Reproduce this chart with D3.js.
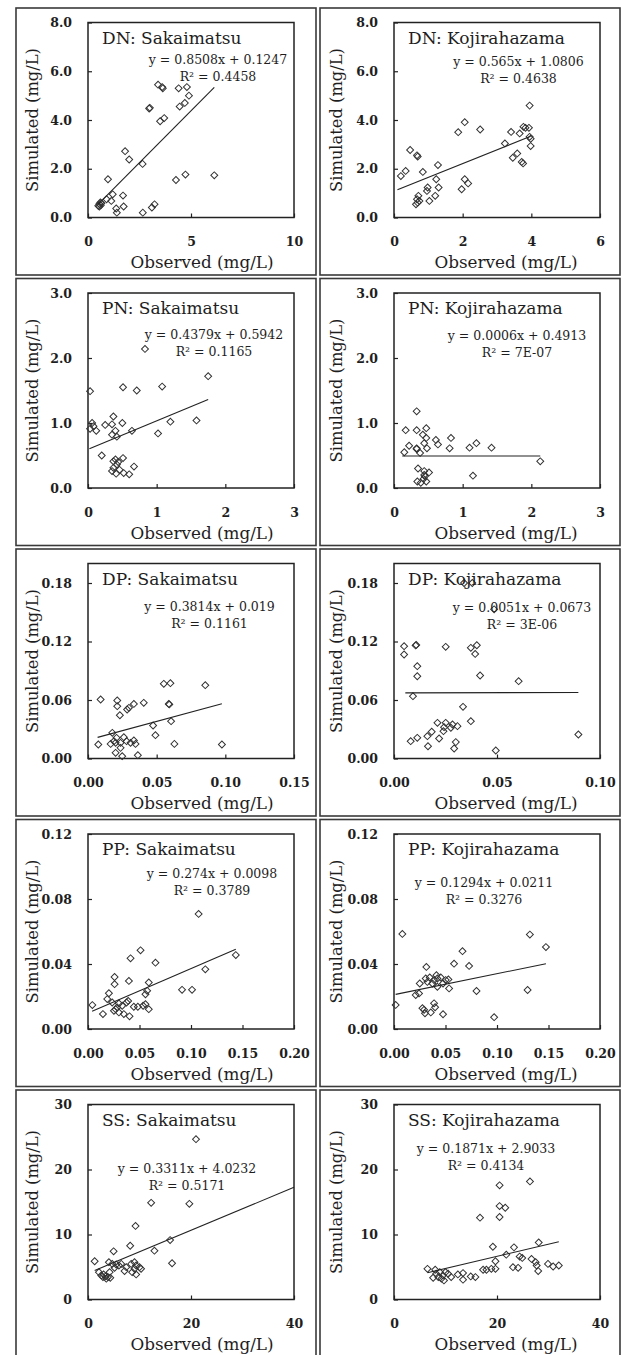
<!DOCTYPE html>
<html>
<head>
<meta charset="utf-8">
<script src="https://cdn.jsdelivr.net/npm/d3@7"></script>
<style>
  body { margin: 0; background: #fff; }
  svg { display: block; }
  text { font-family: "DejaVu Serif", serif; fill: #1e1e1e; }
</style>
</head>
<body>
<div id="chart"></div>
<script>
// --- data (observed, simulated) ---
const dnSakaimatsu = [[3.4,5.45],[3.6,5.35],[3.63,5.3],[4.4,5.3],[4.8,5.35],[4.9,5.0],[4.7,4.7],[4.45,4.55],[3.0,4.5],[2.97,4.47],[3.7,4.08],[3.5,3.95],[1.8,2.72],[2.0,2.38],[2.65,2.2],[0.97,1.57],[4.27,1.54],[4.73,1.76],[6.13,1.73],[1.2,0.95],[1.7,0.9],[1.13,0.68],[0.9,0.75],[1.37,0.37],[1.73,0.45],[1.4,0.2],[2.66,0.2],[3.1,0.41],[3.23,0.54],[0.55,0.55],[0.6,0.62],[0.5,0.48],[0.65,0.58],[0.55,0.45],[0.62,0.5]];
const dnKojirahazama = [[3.95,4.59],[3.83,3.68],[3.93,3.68],[3.77,3.72],[3.41,3.51],[3.66,3.45],[3.95,3.31],[3.98,3.23],[3.23,3.04],[3.98,2.93],[3.59,2.63],[3.46,2.45],[3.72,2.28],[3.76,2.22],[2.06,3.91],[1.87,3.5],[2.51,3.61],[0.47,2.77],[0.67,2.55],[0.69,2.5],[0.2,1.7],[0.34,1.91],[0.84,1.87],[1.28,2.15],[1.23,1.57],[1.3,1.23],[0.98,1.23],[0.96,1.09],[1.03,0.68],[1.2,0.89],[0.71,0.89],[0.67,0.75],[0.69,0.61],[0.64,0.54],[0.74,0.68],[2.06,1.57],[2.16,1.4],[1.97,1.16]];
const pnSakaimatsu = [[0.83,2.14],[1.75,1.72],[0.51,1.55],[1.08,1.56],[0.71,1.5],[0.03,1.49],[0.37,1.1],[0.5,1.0],[0.35,0.98],[0.25,0.97],[0.06,1.0],[0.08,0.95],[0.03,0.91],[0.12,0.88],[1.2,1.02],[1.58,1.04],[1.02,0.84],[0.64,0.88],[0.4,0.88],[0.42,0.79],[0.35,0.82],[0.2,0.5],[0.4,0.44],[0.51,0.46],[0.42,0.36],[0.37,0.31],[0.35,0.26],[0.46,0.28],[0.67,0.33],[0.41,0.22],[0.52,0.23],[0.6,0.21],[0.37,0.41],[0.44,0.4]];
const pnKojirahazama = [[0.33,1.18],[0.17,0.89],[0.33,0.89],[0.47,0.92],[0.42,0.82],[0.47,0.77],[0.83,0.77],[0.61,0.74],[0.64,0.67],[0.44,0.69],[0.48,0.61],[0.81,0.61],[1.1,0.62],[1.2,0.69],[1.42,0.62],[0.22,0.65],[0.33,0.61],[0.33,0.6],[0.15,0.55],[0.38,0.54],[2.13,0.41],[1.15,0.19],[0.35,0.3],[0.44,0.26],[0.51,0.24],[0.34,0.1],[0.44,0.2],[0.43,0.14],[0.47,0.1],[0.39,0.08],[0.45,0.18]];
const dpSakaimatsu = [[0.0092,0.0605],[0.0213,0.0595],[0.0213,0.0537],[0.0232,0.0444],[0.0285,0.0503],[0.0298,0.052],[0.0334,0.056],[0.0406,0.0571],[0.0552,0.0766],[0.06,0.0773],[0.0854,0.0752],[0.0588,0.056],[0.0592,0.0555],[0.0474,0.0338],[0.0605,0.0383],[0.0491,0.0239],[0.0629,0.015],[0.0975,0.0144],[0.0075,0.0144],[0.0177,0.0263],[0.0189,0.0178],[0.0201,0.0161],[0.0165,0.015],[0.0208,0.0212],[0.0261,0.0219],[0.0281,0.0178],[0.031,0.0161],[0.0334,0.0185],[0.0346,0.015],[0.0237,0.0161],[0.0201,0.0058],[0.0249,0.0024],[0.0363,0.0034],[0.0237,0.0109]];
const dpKojirahazama = [[0.034,0.18],[0.038,0.18],[0.0486,0.153],[0.0049,0.1152],[0.0049,0.1067],[0.0105,0.116],[0.0108,0.1165],[0.0113,0.0947],[0.0113,0.0844],[0.0251,0.1145],[0.0373,0.1135],[0.0402,0.1162],[0.0394,0.1073],[0.0418,0.0851],[0.0605,0.0793],[0.0092,0.0639],[0.0335,0.053],[0.0373,0.0383],[0.0211,0.0366],[0.0251,0.0366],[0.0284,0.0349],[0.0243,0.0321],[0.0276,0.0315],[0.0308,0.0332],[0.0183,0.0274],[0.024,0.028],[0.0162,0.0229],[0.0219,0.0205],[0.0081,0.0178],[0.0113,0.0212],[0.03,0.0168],[0.0165,0.0126],[0.0292,0.0103],[0.0494,0.0082],[0.0895,0.0246]];
const ppSakaimatsu = [[0.1074,0.0708],[0.051,0.0484],[0.0413,0.0435],[0.0655,0.0408],[0.1435,0.0455],[0.1139,0.0367],[0.0258,0.032],[0.0258,0.0276],[0.0397,0.0296],[0.059,0.0286],[0.0913,0.0241],[0.101,0.0241],[0.0203,0.022],[0.0558,0.0214],[0.0574,0.0235],[0.0187,0.0184],[0.0235,0.0163],[0.0042,0.0147],[0.03,0.0157],[0.0374,0.0163],[0.039,0.0173],[0.0332,0.0143],[0.0284,0.0133],[0.0445,0.0137],[0.0484,0.0137],[0.0535,0.0143],[0.059,0.0122],[0.0252,0.0112],[0.03,0.0102],[0.0348,0.0092],[0.0145,0.0092],[0.0403,0.0078],[0.0268,0.0122],[0.0558,0.0153]];
const ppKojirahazama = [[0.0081,0.0585],[0.1319,0.0581],[0.1475,0.0504],[0.0665,0.0479],[0.0583,0.0402],[0.0729,0.0388],[0.0314,0.0382],[0.025,0.028],[0.0324,0.029],[0.0347,0.0317],[0.0389,0.0301],[0.0412,0.0331],[0.0454,0.0317],[0.0308,0.0311],[0.0373,0.028],[0.0421,0.026],[0.0476,0.028],[0.0502,0.0301],[0.0528,0.0305],[0.0535,0.025],[0.0421,0.0311],[0.0211,0.0209],[0.0243,0.0219],[0.0801,0.0234],[0.1297,0.024],[0.0016,0.0148],[0.0389,0.0158],[0.0399,0.0134],[0.0276,0.0128],[0.0301,0.0097],[0.0357,0.0102],[0.0476,0.0091],[0.0972,0.0073],[0.0292,0.0118]];
const ssSakaimatsu = [[20.97,24.67],[12.26,14.87],[19.68,14.72],[9.23,11.32],[15.94,9.14],[8.19,8.27],[12.9,7.51],[4.97,7.41],[16.32,5.58],[1.29,5.89],[4.06,5.74],[4.71,5.48],[5.48,5.38],[6.0,5.23],[6.45,5.48],[7.42,4.97],[8.39,5.48],[9.03,5.74],[9.35,5.23],[10.0,4.97],[10.3,4.72],[9.03,4.72],[7.1,4.37],[8.58,4.21],[9.35,3.86],[2.13,4.21],[2.58,3.71],[3.03,3.86],[3.42,3.55],[3.87,3.45],[4.32,3.35],[3.55,3.2],[2.9,3.45],[5.16,4.87],[4.19,4.21]];
const ssKojirahazama = [[26.4,18.17],[20.5,17.56],[20.5,14.37],[21.6,14.11],[20.5,12.69],[16.7,12.59],[28.1,8.78],[19.2,8.12],[23.3,8.02],[21.8,6.9],[24.4,6.6],[24.9,6.4],[26.7,6.24],[19.7,5.89],[27.5,5.74],[29.9,5.48],[27.7,5.23],[30.9,5.08],[32.0,5.23],[23.1,4.97],[24.1,4.87],[19.7,4.72],[18.9,4.72],[17.3,4.57],[17.95,4.57],[28.0,4.37],[13.4,4.06],[12.4,3.86],[14.9,3.55],[15.8,3.45],[13.4,3.05],[6.5,4.72],[7.6,3.35],[8.2,3.96],[8.6,3.45],[9.2,3.2],[9.5,3.7],[8.0,4.57],[10.0,4.21],[10.5,3.96],[8.9,4.21],[11.1,3.45],[9.7,2.94]];

// panel order: left column Sakaimatsu, right column Kojirahazama
const panelTitles = ["DN: Sakaimatsu","DN: Kojirahazama","PN: Sakaimatsu","PN: Kojirahazama","DP: Sakaimatsu","DP: Kojirahazama","PP: Sakaimatsu","PP: Kojirahazama","SS: Sakaimatsu","SS: Kojirahazama"];
const panelPoints = [dnSakaimatsu, dnKojirahazama, pnSakaimatsu, pnKojirahazama, dpSakaimatsu, dpKojirahazama, ppSakaimatsu, ppKojirahazama, ssSakaimatsu, ssKojirahazama];
const xMax = [10, 6, 3, 3, 0.15, 0.10, 0.20, 0.20, 40, 40];
const yMax = [8, 8, 3, 3, 0.20, 0.20, 0.12, 0.12, 30, 30];
const xTicks = [[0,5,10],[0,2,4,6],[0,1,2,3],[0,1,2,3],[0,0.05,0.10,0.15],[0,0.05,0.10],[0,0.05,0.10,0.15,0.20],[0,0.05,0.10,0.15,0.20],[0,20,40],[0,20,40]];
const yTicks = [[0,2,4,6,8],[0,2,4,6,8],[0,1,2,3],[0,1,2,3],[0,0.06,0.12,0.18],[0,0.06,0.12,0.18],[0,0.04,0.08,0.12],[0,0.04,0.08,0.12],[0,10,20,30],[0,10,20,30]];
const xFormats = ["d","d","d","d",".2f",".2f",".2f",".2f","d","d"];
const yFormats = [".1f",".1f",".1f",".1f",".2f",".2f",".2f",".2f","d","d"];

// linear trendlines
const slopes = [0.8508, 0.565, 0.4379, 0.0006, 0.3814, 0.0051, 0.274, 0.1294, 0.3311, 0.1871];
const intercepts = [0.1247, 1.0806, 0.5942, 0.4913, 0.019, 0.0673, 0.0098, 0.0211, 4.0232, 2.9033];
const r2Labels = ["0.4458","0.4638","0.1165","7E-07","0.1161","3E-06","0.3789","0.3276","0.5171","0.4134"];
const fitRanges = [[0.5,6.13],[0.1,3.98],[0.02,1.75],[0.12,2.13],[0.007,0.0975],[0.0055,0.0895],[0.004,0.1435],[0.0016,0.1475],[1.29,40],[6.5,32]];

// layout
const colX = [16, 320];
const rowY = [8, 278.5, 549, 819.5, 1090];
const panelW = 300, panelH = 267;
const plotLeft = [72, 74];
const plotTop = 14.5, plotW = 206, plotH = 195;
// equation label anchor (centre x, baseline y) inside each plot
const eqPos = [[130,41],[124.5,43],[126,46],[123,47],[121.5,47],[128,48],[124,44],[90,53],[99,68],[92,48]];

const svg = d3.select("#chart").append("svg")
  .attr("width", 622)
  .attr("height", 1355);

panelTitles.forEach((title, i) => {
  const col = i % 2, row = Math.floor(i / 2);
  const g = svg.append("g").attr("transform", `translate(${colX[col]},${rowY[row]})`);

  // panel border
  g.append("rect")
    .attr("x", 0).attr("y", 0)
    .attr("width", panelW).attr("height", panelH)
    .attr("fill", "none")
    .attr("stroke", "#3a3a3a")
    .attr("stroke-width", 1.6);

  const plot = g.append("g").attr("transform", `translate(${plotLeft[col]},${plotTop})`);

  const x = d3.scaleLinear().domain([0, xMax[i]]).range([0, plotW]);
  const y = d3.scaleLinear().domain([0, yMax[i]]).range([plotH, 0]);

  // axes with inward ticks
  const xAxis = plot.append("g")
    .attr("transform", `translate(0,${plotH})`)
    .call(d3.axisBottom(x).tickValues(xTicks[i]).tickFormat(d3.format(xFormats[i]))
      .tickSizeInner(-4).tickSizeOuter(0).tickPadding(20));
  const yAxis = plot.append("g")
    .call(d3.axisLeft(y).tickValues(yTicks[i]).tickFormat(d3.format(yFormats[i]))
      .tickSizeInner(-4).tickSizeOuter(0).tickPadding(16));
  [xAxis, yAxis].forEach(a => {
    a.select(".domain").remove();
    a.selectAll("line").attr("stroke", "#222").attr("stroke-width", 1.2);
    a.selectAll("text")
      .attr("font-family", "DejaVu Serif")
      .attr("font-size", 12.5)
      .attr("font-weight", "bold")
      .attr("fill", "#1e1e1e");
  });

  // plot frame
  plot.append("rect")
    .attr("width", plotW).attr("height", plotH)
    .attr("fill", "none")
    .attr("stroke", "#222")
    .attr("stroke-width", 1.5);

  // points
  plot.selectAll("path.pt")
    .data(panelPoints[i])
    .join("path")
    .attr("class", "pt")
    .attr("transform", d => `translate(${x(d[0])},${y(d[1])}) rotate(45)`)
    .attr("d", d3.symbol(d3.symbolSquare, 24))
    .attr("fill", "none")
    .attr("stroke", "#333")
    .attr("stroke-width", 1);

  // trendline
  const fit = fitRanges[i].map(v => [v, slopes[i] * v + intercepts[i]]);
  plot.append("path")
    .datum(fit)
    .attr("fill", "none")
    .attr("stroke", "#222")
    .attr("stroke-width", 1.1)
    .attr("d", d3.line().x(d => x(d[0])).y(d => y(d[1])));

  // panel title
  plot.append("text")
    .attr("x", 14).attr("y", 21)
    .attr("font-size", 17)
    .text(title);

  // equation + R²
  const [ex, ey] = eqPos[i];
  plot.append("text")
    .attr("x", ex).attr("y", ey)
    .attr("text-anchor", "middle")
    .attr("font-size", 12.5)
    .text(`y = ${slopes[i]}x + ${intercepts[i]}`);
  plot.append("text")
    .attr("x", ex).attr("y", ey + 17)
    .attr("text-anchor", "middle")
    .attr("font-size", 12.5)
    .text(`R² = ${r2Labels[i]}`);

  // axis titles
  g.append("text")
    .attr("x", 186).attr("y", 260)
    .attr("text-anchor", "middle")
    .attr("font-size", 16.8)
    .text("Observed (mg/L)");
  g.append("text")
    .attr("transform", `translate(21.5,${plotTop + plotH / 2}) rotate(-90)`)
    .attr("text-anchor", "middle")
    .attr("font-size", 16.3)
    .text("Simulated (mg/L)");
});
</script>
</body>
</html>
